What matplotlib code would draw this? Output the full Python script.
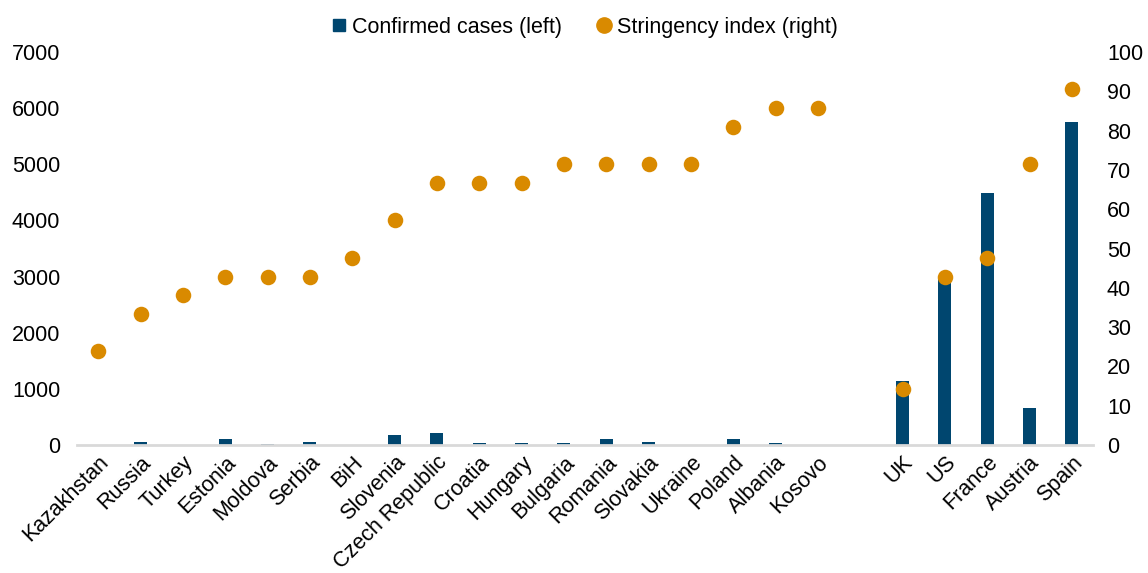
import numpy as np
import matplotlib.pyplot as plt
from matplotlib.lines import Line2D

plt.rcParams['font.family'] = ['Liberation Sans', 'DejaVu Sans']
plt.rcParams['font.size'] = 15.5

# CEE countries, then a gap, then western comparison countries
cee = ["Kazakhstan", "Russia", "Turkey", "Estonia", "Moldova", "Serbia", "BiH",
       "Slovenia", "Czech Republic", "Croatia", "Hungary", "Bulgaria", "Romania",
       "Slovakia", "Ukraine", "Poland", "Albania", "Kosovo"]
cee_cases = [6, 60, 5, 115, 25, 48, 5, 180, 205, 40, 30, 40, 110, 45, 3, 100, 40, 1]
cee_stringency = [23.81, 33.33, 38.10, 42.86, 42.86, 42.86, 47.62, 57.14, 66.67,
                  66.67, 66.67, 71.43, 71.43, 71.43, 71.43, 80.95, 85.71, 85.71]

west = ["UK", "US", "France", "Austria", "Spain"]
west_cases = [1140, 3000, 4490, 660, 5750]
west_stringency = [14.29, 42.86, 47.62, 71.43, 90.48]

labels = cee + west
cases = cee_cases + west_cases
stringency = cee_stringency + west_stringency
pos = list(range(len(cee))) + [len(cee) + 1 + i for i in range(len(west))]

bar_color = "#00466F"
dot_color = "#D98A00"

fig = plt.figure(figsize=(11.48, 5.73), dpi=100)
ax = fig.add_axes([0.0671, 0.2234, 0.885, 0.6858])
ax2 = ax.twinx()

ax.bar(pos, cases, width=0.31, color=bar_color, zorder=2)
ax2.scatter(pos, stringency, s=125, color=dot_color, zorder=3, linewidths=0)

ax.set_xlim(-0.5, len(cee) + len(west) + 0.5)
ax.set_ylim(0, 7000)
ax.set_yticks(range(0, 7001, 1000))
ax2.set_ylim(0, 100)
ax2.set_yticks(range(0, 101, 10))

ax.set_xticks(pos)
ax.set_xticklabels(labels, rotation=45, ha='right', rotation_mode='anchor')

for a in (ax, ax2):
    for s in ('top', 'right', 'left', 'bottom'):
        a.spines[s].set_visible(False)
    a.tick_params(length=0)
ax.spines['bottom'].set_visible(True)
ax.spines['bottom'].set_color('#d9d9d9')
ax.spines['bottom'].set_linewidth(2)
ax.tick_params(axis='y', pad=12)
ax.tick_params(axis='x', pad=5)
ax2.tick_params(axis='y', pad=10)

handles = [
    Line2D([], [], marker='s', linestyle='none', color=bar_color, markersize=9),
    Line2D([], [], marker='o', linestyle='none', color=dot_color, markersize=11),
]
fig.legend(handles, ["Confirmed cases (left)", "Stringency index (right)"],
           loc='upper center', bbox_to_anchor=(0.509, 1.005), ncol=2, frameon=False,
           handlelength=0.7, handletextpad=0.25, columnspacing=1.6)

fig.savefig("out.png", dpi=100)
